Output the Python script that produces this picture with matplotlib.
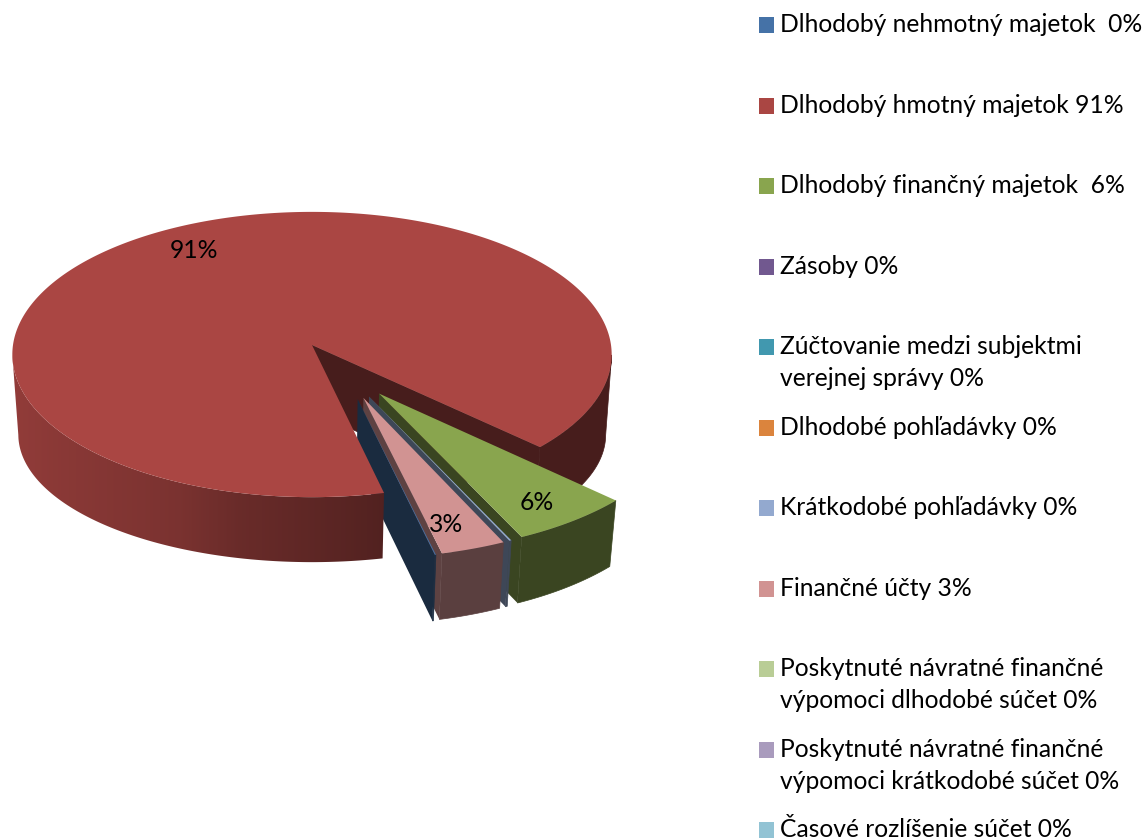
import numpy as np
import matplotlib
matplotlib.use('Agg')
import matplotlib.pyplot as plt
from matplotlib.colors import to_rgb
from matplotlib.patches import Polygon, Rectangle

plt.rcParams['font.family'] = ['Lato', 'DejaVu Sans']

labels = ['Dlhodobý nehmotný majetok  0%', 'Dlhodobý hmotný majetok 91%',
          'Dlhodobý finančný majetok  6%', 'Zásoby 0%',
          'Zúčtovanie medzi subjektmi\nverejnej správy 0%',
          'Dlhodobé pohľadávky 0%', 'Krátkodobé pohľadávky 0%',
          'Finančné účty 3%', 'Poskytnuté návratné finančné\nvýpomoci dlhodobé súčet 0%',
          'Poskytnuté návratné finančné\nvýpomoci krátkodobé súčet 0%',
          'Časové rozlíšenie súčet 0%']
# percent shares, the tiny ones only show as slivers
values = [0.05, 90.6, 6.0, 0, 0, 0, 0.1, 3.2, 0, 0, 0]
colors = ['#4572A7', '#AA4643', '#89A54E', '#71588F', '#4198AF', '#DB843D',
          '#93A9CF', '#D19392', '#B9CD96', '#A99BBD', '#92C3D4']
legend_top = [17, 98, 178, 259, 339, 420, 500, 581, 661, 742, 822]

# pie layout in image pixels
CX, CY = 312, 345
RX, RY = 299, 142
PERSP = 0.0667
DEPTH = 66
SHRINK = 0.98
START = 166.8
EXPLODE = 0.4
FS = 17.7
LINE_GAP = 32


def project(u, v):
    w = 1 - PERSP * v
    return CX + RX * u / w, CY + RY * v / w


def down(p):
    return CX + (p[0] - CX) * SHRINK, p[1] + DEPTH


def down_far(p):
    # the wall of the big slice gets taller toward its far end
    return CX + (p[0] - CX) * SHRINK, p[1] + np.interp(p[1], [355, 497], [80, 65])


def shade(col, f):
    return tuple(np.array(to_rgb(col)) * f)


def arc(a0, a1, du=0.0, dv=0.0):
    ts = np.radians(np.linspace(a0, a1, max(int((a1 - a0) * 2), 2)))
    return [project(du + np.sin(t), dv - np.cos(t)) for t in ts]


def wall(pts, drop=down):
    return list(pts) + [drop(p) for p in reversed(pts)]


def gradient_wall(ax, pts, col, xs, fs, z):
    # horizontal shading clipped to the wall outline
    grid = np.linspace(min(xs), max(xs), 400)
    base = np.array(to_rgb(col))
    img = np.interp(grid, xs, fs)[None, :, None] * base[None, None, :]
    im = ax.imshow(img, extent=(min(xs), max(xs), 839, 0), aspect='auto',
                   interpolation='bilinear', zorder=z)
    clip = Polygon(wall(pts, down_far), transform=ax.transData, fc='none', ec='none')
    ax.add_patch(clip)
    im.set_clip_path(clip)


fig = plt.figure(figsize=(11.44, 8.39), dpi=100)
ax = fig.add_axes([0, 0, 1, 1])

per = 360.0 / sum(values)
spans = []
angle = START
for val, col in zip(values, colors):
    spans.append((angle % 360, angle % 360 + val * per, col))
    angle += val * per

# big slice: cut face and right wall sit behind the exploded ones, rest in front
a0, a1, big = spans[1]
apex = project(0, 0)
ring = arc(a0, a1)
dark = shade(big, 0.42)
end = ring[-1]
ax.add_patch(Polygon([apex, end, down(end), down(apex)], fc=dark, ec=dark, lw=0.5, zorder=1))
ax.add_patch(Polygon(wall(arc(454, a1), down_far), fc=dark, ec=dark, lw=0.5, zorder=1))
# stop at the leftmost point of the rim, past it the outline folds back on itself
gradient_wall(ax, arc(a0, 266), big, [10, 50, 180, 240, 340, 385],
              [0.86, 0.82, 0.72, 0.62, 0.53, 0.48], 5)
ax.add_patch(Polygon([apex] + ring, fc=big, ec='none', zorder=5.5))

# exploded slices, back to front
z = 2
for idx, wall_f, face_f in [(2, 0.42, 0.42), (6, 0.42, 0.42), (7, 0.43, 0.45), (0, 0.4, 0.38)]:
    s0, s1, col = spans[idx]
    mid = (s0 + s1) / 2
    d = np.radians(147.4 + 0.5 * (mid - 145.4))
    du, dv = EXPLODE * np.sin(d), -EXPLODE * np.cos(d)
    top = arc(s0, s1, du, dv)
    tip = project(du, dv)
    ax.add_patch(Polygon(wall(top), fc=shade(col, wall_f), ec=shade(col, wall_f), lw=0.5, zorder=z))
    ax.add_patch(Polygon([tip, top[-1], down(top[-1]), down(tip)], fc=shade(col, face_f), ec='none', zorder=z + 0.1))
    ax.add_patch(Polygon([tip] + top, fc=col, ec='none', zorder=z + 0.2))
    z += 0.5

ax.text(194, 250, '91%', fontsize=FS, ha='center', va='center', color='black', zorder=8)
ax.text(537, 503, '6%', fontsize=FS, ha='center', va='center', color='black', zorder=8)
ax.text(446, 525, '3%', fontsize=FS, ha='center', va='center', color='black', zorder=8)

for lab, col, y in zip(labels, colors, legend_top):
    ax.add_patch(Rectangle((759, y), 15, 15.5, fc=col, ec='none', zorder=8))
    for i, line in enumerate(lab.split('\n')):
        ax.text(780, y + 15 + i * LINE_GAP, line, fontsize=FS, ha='left', va='baseline',
                color='black', zorder=8)

ax.set_xlim(0, 1144)
ax.set_ylim(839, 0)
ax.axis('off')
fig.savefig('out.png', dpi=100)
